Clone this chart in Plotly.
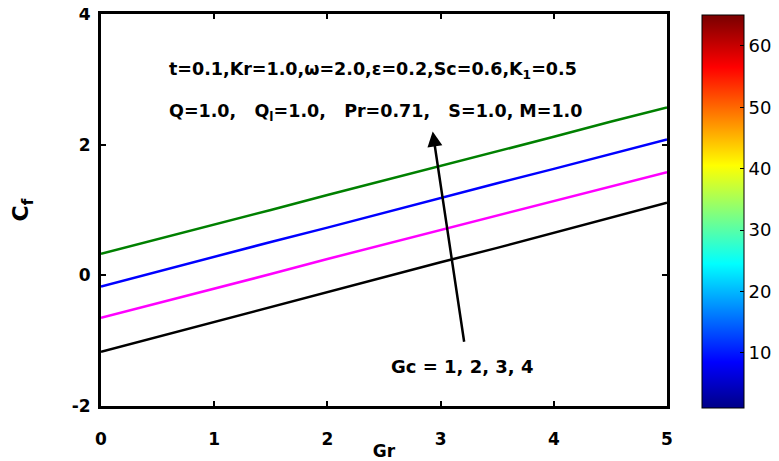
import plotly.graph_objects as go

# Gr values and skin friction Cf for Gc = 1, 2, 3, 4
gr = [0, 0.5, 1, 1.5, 2, 2.5, 3, 3.5, 4, 4.5, 5]
cf_gc1 = [-1.17, -0.94, -0.71, -0.49, -0.26, -0.03, 0.20, 0.42, 0.65, 0.88, 1.11]
cf_gc2 = [-0.65, -0.43, -0.20, 0.02, 0.25, 0.47, 0.69, 0.91, 1.13, 1.36, 1.58]
cf_gc3 = [-0.17, 0.06, 0.28, 0.51, 0.73, 0.96, 1.18, 1.41, 1.63, 1.86, 2.08]
cf_gc4 = [0.33, 0.55, 0.78, 1.00, 1.23, 1.45, 1.67, 1.90, 2.12, 2.35, 2.57]

series = [
    (cf_gc1, "black"),
    (cf_gc2, "#ff00ff"),
    (cf_gc3, "#0000ff"),
    (cf_gc4, "#008000"),
]

x_ticks = [0, 1, 2, 3, 4, 5]
y_ticks = [-2, 0, 2, 4]
y_ticktext = ["-2", "0", "2", "4"]
cbar_ticks = [10, 20, 30, 40, 50, 60]

# MATLAB style jet
jet = [
    [0.0, "rgb(0,0,143)"],
    [0.0078, "rgb(0,0,143)"],
    [0.117, "rgb(0,0,255)"],
    [0.367, "rgb(0,255,255)"],
    [0.617, "rgb(255,255,0)"],
    [0.867, "rgb(255,0,0)"],
    [0.992, "rgb(128,0,0)"],
    [1.0, "rgb(128,0,0)"],
]

FONT = "DejaVu Sans, sans-serif"
BOLD = dict(family=FONT, color="black", weight="bold")

fig = go.Figure()
for ys, col in series:
    fig.add_trace(go.Scatter(x=gr, y=ys, mode="lines",
                             line=dict(color=col, width=2.5), showlegend=False))

# dummy trace just for the colorbar
fig.add_trace(go.Scatter(
    x=[None], y=[None], mode="markers", showlegend=False,
    marker=dict(color=[1], cmin=1, cmax=65, colorscale=jet, showscale=True,
                colorbar=dict(
                    x=1.062, xanchor="left", y=0.997, yanchor="top",
                    lenmode="pixels", len=393, thickness=42,
                    xpad=0, ypad=0,
                    outlinewidth=1, outlinecolor="black",
                    tickvals=cbar_ticks, ticks="inside", ticklen=4,
                    tickcolor="black",
                    tickfont=dict(family=FONT, size=18, color="black"),
                ))))

fig.add_annotation(x=2.93, y=2.2, ax=3.21, ay=-1.04, xref="x", yref="y",
                   axref="x", ayref="y", text="", showarrow=True,
                   arrowhead=2, arrowsize=1.2, arrowwidth=2.5, arrowcolor="black")
fig.add_annotation(x=3.19, y=-1.40, xref="x", yref="y", showarrow=False,
                   text="Gc = 1, 2, 3, 4", font=dict(size=18, **BOLD))
fig.add_annotation(x=0.58, y=3.14, xref="x", yref="y", xanchor="left",
                   showarrow=False,
                   text="t=0.1,Kr=1.0,ω=2.0,ε=0.2,Sc=0.6,K<sub>1</sub>=0.5",
                   font=dict(size=17.5, **BOLD))
fig.add_annotation(x=0.58, y=2.5, xref="x", yref="y", xanchor="left",
                   showarrow=False,
                   text="Q=1.0,   Q<sub>l</sub>=1.0,   Pr=0.71,   S=1.0, M=1.0",
                   font=dict(size=17.5, **BOLD))

axis_common = dict(
    showline=True, linewidth=3, linecolor="black", mirror="ticks",
    ticks="inside", ticklen=5, tickwidth=2, tickcolor="black",
    showgrid=False, zeroline=False, ticklabeloverflow="allow",
    tickfont=dict(size=17, **BOLD),
)

fig.update_xaxes(range=[0, 5], tickvals=x_ticks, ticklabelstandoff=16,
                 title=dict(text="Gr", standoff=4, font=dict(size=17, **BOLD)),
                 **axis_common)
fig.update_yaxes(range=[-2, 4], tickvals=y_ticks, ticktext=y_ticktext,
                 ticklabelstandoff=4,
                 title=dict(text="C<sub>f</sub>", standoff=40, font=dict(size=22, **BOLD)),
                 **axis_common)

# the page body adds an 8px offset, so the figure is drawn 8px smaller
fig.update_layout(
    width=771, height=453,
    margin=dict(l=93, r=112, t=6, b=55, autoexpand=False),
    plot_bgcolor="white", paper_bgcolor="white",
    font=dict(family=FONT, color="black"),
)

fig.write_html("out.html")
